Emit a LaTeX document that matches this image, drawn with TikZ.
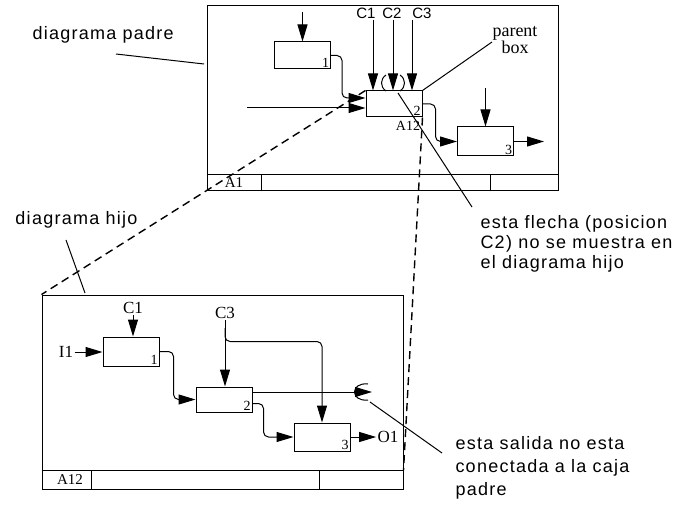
\documentclass[tikz,border=0pt]{standalone}
\usepackage{fontspec}
\setmainfont{Liberation Serif}
\newfontfamily\notefont[LetterSpace=7]{Liberation Sans}
\newfontfamily\ctlfont{Liberation Sans}
\usetikzlibrary{arrows.meta, positioning, calc}

\begin{document}
\begin{tikzpicture}[x=1pt, y=-1pt, line width=1pt,
  >={Triangle[length=17pt, width=10pt]},
  actbox/.style={draw, minimum width=56pt, minimum height=27pt, inner sep=0pt},
  boxnum/.style={anchor=south east, inner sep=1.5pt, font=\fontsize{14}{14}\selectfont},
  flow/.style={->, rounded corners=5pt},
  link/.style={dash pattern=on 8pt off 5pt, line width=1.4pt},
  note/.style={font=\notefont\fontsize{18}{20}\selectfont, align=left, inner sep=0pt},
  tag/.style={font=\fontsize{17}{17}\selectfont, inner sep=1pt}]
  \useasboundingbox (0,0) rectangle (683,508);

  % Parent diagram frame
  \node[draw, minimum width=351pt, minimum height=185pt, inner sep=0pt] (pf) at (382.5,98.5) {};
  \draw ([yshift=17pt]pf.south west) -- ([yshift=17pt]pf.south east);
  \foreach \dx in {55,284}
    \draw ([xshift=\dx pt]pf.south west) -- ++(0,-17);
  \node[tag, font=\fontsize{15}{15}\selectfont] (pnum) at (234,183) {A1};

  % Parent boxes
  \node[actbox, label={[boxnum]south east:1}] (p1) at (302.5,55.5) {};
  \node[actbox, minimum height=26pt, label={[boxnum]south east:2}] (p2) at (394,104) {};
  \node[actbox, minimum height=29pt, label={[boxnum]south east:3}] (p3) at (485.5,141.5) {};
  \node[tag, font=\fontsize{14}{14}\selectfont, anchor=north] (pref) at (408,120) {A12};

  % Controls of box 2
  \foreach \x/\lx/\cn in {373/366/C1, 393/392/C2, 412/422/C3}{
    \coordinate (top\cn) at (\x,20);
    \node[font=\ctlfont\fontsize{15}{15}\selectfont, inner sep=0pt] (lab\cn) at (\lx,13) {\cn};
    \draw[->] (top\cn) -- (top\cn |- p2.north);
  }
  % tunnel marks round C2
  \draw (386,75) .. controls (380,79) and (380,87) .. (386,91);
  \draw (400,75) .. controls (406,79) and (406,87) .. (400,91);

  % Parent arrows
  \draw[->] ([yshift=29pt]p1.north) -- (p1.north);
  \draw[->] ([yshift=38pt]p3.north) -- (p3.north);
  \coordinate (pin) at (247,108);
  \draw[->] (pin) -- (pin -| p2.west);
  \draw[flow] (p1.east) -- ++(11,0) |- ([yshift=6pt]p2.west);
  \draw[flow] (p2.east) -- ++(13,0) |- (p3.west);
  \draw[->] (p3.east) -- ([xshift=30pt]p3.east);

  % Parent box note
  \node[align=center, font=\fontsize{18}{17}\selectfont, inner sep=0pt] (pbox) at (515,40) {parent\\box};
  \draw (p2.north east) -- ([yshift=-2pt]pbox.west);

  % Child diagram frame
  \node[draw, minimum width=361pt, minimum height=194pt, inner sep=0pt] (cf) at (222.5,392) {};
  \draw ([yshift=19pt]cf.south west) -- ([yshift=19pt]cf.south east);
  \foreach \dx in {50,278}
    \draw ([xshift=\dx pt]cf.south west) -- ++(0,-19);
  \node[tag, font=\fontsize{15}{15}\selectfont] (cnum) at (70,480) {A12};

  % Child boxes
  \node[actbox, minimum height=29pt, label={[boxnum]south east:1}] (c1) at (131,351.5) {};
  \node[actbox, minimum height=25pt, label={[boxnum]south east:2}] (c2) at (224,399.5) {};
  \node[actbox, minimum height=28pt, label={[boxnum]south east:3}] (c3) at (322,437) {};

  % Child arrows
  \node[tag] (cC1) at (133,308) {C1};
  \draw[->] (cC1) -- (cC1 |- c1.north);
  \node[tag] (cI1) at (66,352) {I1};
  \draw[->] (cI1) -- (cI1 -| c1.west);
  \draw[flow] (c1.east) -- ++(14,0) |- (c2.west);
  \node[tag] (cC3) at (225,313) {C3};
  \draw[->] (cC3) -- (cC3 |- c2.north);
  \draw[flow] ([yshift=-8pt]cC3.south) |- ([yshift=81pt]c3.north) -- (c3.north);
  \coordinate (ctun) at (372,392);
  \draw[->] ([yshift=7.5pt]c2.east) -- (ctun);
  \draw (368,384) .. controls (350,382) and (350,402) .. (368,400);
  \draw[flow] ([yshift=-4pt]c2.east) -- ++(11,0) |- (c3.west);
  \node[tag] (cO1) at (388,437) {O1};
  \draw[->] (c3.east) -- (cO1);

  % Links between the two diagrams
  \draw[link] (p2.north west) -- (cf.north west);
  \draw[link] (p2.south east) -- ([yshift=19pt]cf.south east);

  % Notes
  \node[note, anchor=west] (padre) at (32,35) {diagrama padre};
  \coordinate (padreA) at (116,54);
  \coordinate (padreB) at (204,64);
  \draw (padreA) -- (padreB);
  \node[note, anchor=west] (hijo) at (15,220) {diagrama hijo};
  \coordinate (hijoA) at (66,240);
  \coordinate (hijoB) at (85,293);
  \draw (hijoA) -- (hijoB);
  \node[note, anchor=north west] (flecha) at (480,215)
    {esta flecha (posicion\\C2) no se muestra en\\el diagrama hijo};
  \coordinate (flechaA) at (398,93);
  \coordinate (flechaB) at (472,207);
  \draw (flechaA) -- (flechaB);
  \node[note, anchor=north west, font=\notefont\fontsize{18}{23}\selectfont] (salida) at (455,436)
    {esta salida no esta\\conectada a la caja\\padre};
  \coordinate (salidaA) at (370,402);
  \coordinate (salidaB) at (442,453);
  \draw (salidaA) -- (salidaB);
\end{tikzpicture}
\end{document}
